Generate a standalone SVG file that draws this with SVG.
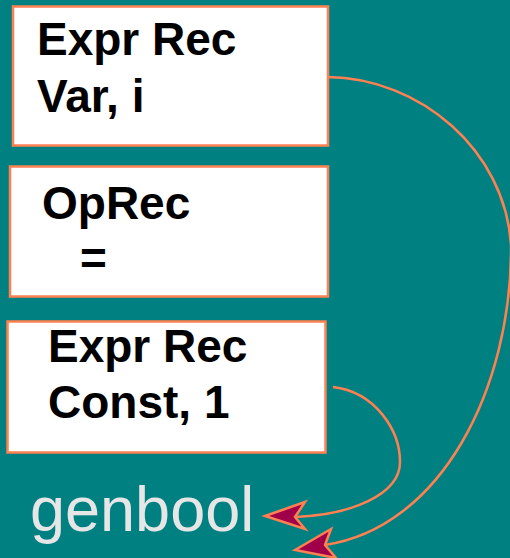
<svg xmlns="http://www.w3.org/2000/svg" width="510" height="558" viewBox="0 0 510 558">
<style>
.box{fill:#ffffff;stroke:#ff8050;stroke-width:2.5}
.t{font-family:"Liberation Sans",Arial,sans-serif;font-weight:bold;font-size:46px;fill:#000000}
.c{fill:none;stroke:#ff8050;stroke-width:2.5}
.ah{fill:#a0004a;stroke:#ff8050;stroke-width:2.5;stroke-linejoin:miter}
</style>
<rect width="510" height="558" fill="#008080"/>
<g id="expr-var">
<rect class="box" x="13" y="6.5" width="315" height="139"/>
<text class="t" x="37" y="55" font-size="47">Expr Rec</text>
<text class="t" x="37" y="112" font-size="47">Var, i</text>
</g>
<g id="oprec">
<rect class="box" x="10" y="166.5" width="318" height="130"/>
<text class="t" x="42" y="219">OpRec</text>
<text class="t" x="80" y="274">=</text>
</g>
<g id="expr-const">
<rect class="box" x="7.5" y="321.5" width="318" height="131"/>
<text class="t" x="48" y="362">Expr Rec</text>
<text class="t" x="48" y="418">Const, 1</text>
</g>
<g id="genbool">
<text x="30" y="531" font-family="Liberation Sans,Arial,sans-serif" font-size="63" fill="#e6e6e6">genbool</text>
</g>
<g id="connectors">
<path class="c" d="M328,77 C420,78 505,150 511,245 C512,390 440,528 325,545"/>
<path class="c" d="M333,387 C375,392 400,430 400,462 C400,495 350,515 295,517"/>
<polygon class="ah" points="265,516 305,502 295,517 305,529"/>
<polygon class="ah" points="295,550 331,529 325,545 336,558"/>
</g>
</svg>
